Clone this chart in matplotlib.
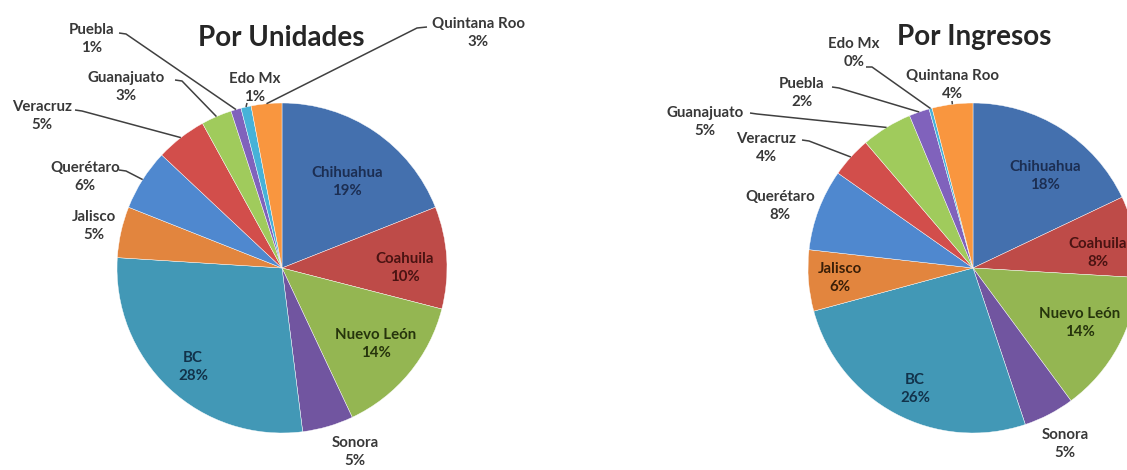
import matplotlib
matplotlib.use("Agg")
import matplotlib.pyplot as plt
import numpy as np

# state names in the order the wedges run (clockwise from 12 o'clock)
estados = ['Chihuahua', 'Coahuila', 'Nuevo León', 'Sonora', 'BC', 'Jalisco',
           'Querétaro', 'Veracruz', 'Guanajuato', 'Puebla', 'Edo Mx', 'Quintana Roo']

# share of units per state (%)
unidades = [19, 10, 14, 5, 28, 5, 6, 5, 3, 1, 1, 3]
# share of revenue per state (%) - Edo Mx is a sliver that rounds to 0
ingresos = [18, 8, 14, 5, 26, 6, 8, 4, 5, 2, 0.3, 4]

titulos = ['Por Unidades', 'Por Ingresos']

colores = ['#4470AE', '#BE4B48', '#94B652', '#7155A0', '#4298B6', '#E2853E',
           '#4F88CF', '#D24E4B', '#A0CB5C', '#8062BC', '#47B2D8', '#F9963F']

W, H = 1127, 470

fig = plt.figure(figsize=(W / 100, H / 100), dpi=100)
ax = fig.add_axes([0, 0, 1, 1])

FONT = 'Lato'
GRIS = '#383838'


def fy(y):
    # layout is measured from the top edge
    return H - y


# per chart: centre, radius, title position, label layout
# label layout: name -> (x, y of text block, leader start or None, stub end or None, text color)
graficas = [
    dict(
        valores=unidades, centro=(282, 268), radio=165, titulo=(281, 38),
        etiquetas={
            'Chihuahua': (347, 182, None, None, '#1C2E52'),
            'Coahuila': (405, 268, None, None, '#4A1312'),
            'Nuevo León': (376, 344, None, None, '#26340C'),
            'Sonora': (355, 452, None, None, GRIS),
            'BC': (193, 367, None, None, '#12324A'),
            'Jalisco': (94, 226, None, None, GRIS),
            'Querétaro': (85, 177, (119, 170), (126, 171), GRIS),
            'Veracruz': (42, 116, (75, 110), (82, 111), GRIS),
            'Guanajuato': (126, 87, (175, 80), (182, 81), GRIS),
            'Puebla': (92, 39, (119, 33), (126, 34), GRIS),
            'Edo Mx': (255, 88, (247, 103), None, GRIS),
            'Quintana Roo': (478, 33, (427, 27), (417, 28), GRIS),
        }),
    dict(
        valores=ingresos, centro=(973, 268), radio=165, titulo=(974, 37),
        etiquetas={
            'Chihuahua': (1045, 176, None, None, '#1C2E52'),
            'Coahuila': (1098, 253, None, None, '#4A1312'),
            'Nuevo León': (1080, 323, None, None, '#26340C'),
            'Sonora': (1065, 444, None, None, GRIS),
            'BC': (915, 389, None, None, '#12324A'),
            'Jalisco': (840, 278, None, None, '#3A1F08'),
            'Querétaro': (780, 206, None, None, GRIS),
            'Veracruz': (766, 148, (802, 140), (809, 141), GRIS),
            'Guanajuato': (705, 122, (750, 113), (757, 114), GRIS),
            'Puebla': (802, 93, (832, 87), (839, 88), GRIS),
            'Edo Mx': (854, 53, (866, 67), (872, 67), GRIS),
            'Quintana Roo': (952, 85, (952, 101), None, GRIS),
        }),
]

for titulo, g in zip(titulos, graficas):
    cx, cy = g['centro']
    r = g['radio']
    cuñas, _ = ax.pie(g['valores'], colors=colores, startangle=90, counterclock=False,
                      center=(cx, fy(cy)), radius=r, frame=True,
                      wedgeprops=dict(edgecolor='white', linewidth=0.3))

    ax.text(g['titulo'][0], fy(g['titulo'][1]), titulo, ha='center', va='center',
            fontsize=20, fontweight='bold', family=FONT, color='#262626')

    for nombre, valor, cuña in zip(estados, g['valores'], cuñas):
        x, y, ancla, tope, col = g['etiquetas'][nombre]
        ax.text(x, fy(y), f"{nombre}\n{valor:.0f}%", ha='center', va='center',
                fontsize=10.8, fontweight='bold', family=FONT, color=col,
                linespacing=1.45)
        if ancla is not None:
            # leader line ends on the arc at the wedge's mid angle
            ang = np.deg2rad((cuña.theta1 + cuña.theta2) / 2)
            px = cx + r * np.cos(ang)
            py = fy(cy) + r * np.sin(ang)
            xs = [ancla[0]]
            ys = [fy(ancla[1])]
            if tope is not None:
                xs.append(tope[0])
                ys.append(fy(tope[1]))
            xs.append(px)
            ys.append(py)
            ax.plot(xs, ys, color='#404040', linewidth=1.1, solid_capstyle='butt')

ax.set_xlim(0, W)
ax.set_ylim(0, H)
ax.set_aspect('equal')
ax.axis('off')
fig.savefig('out.png', dpi=100, facecolor='white')
